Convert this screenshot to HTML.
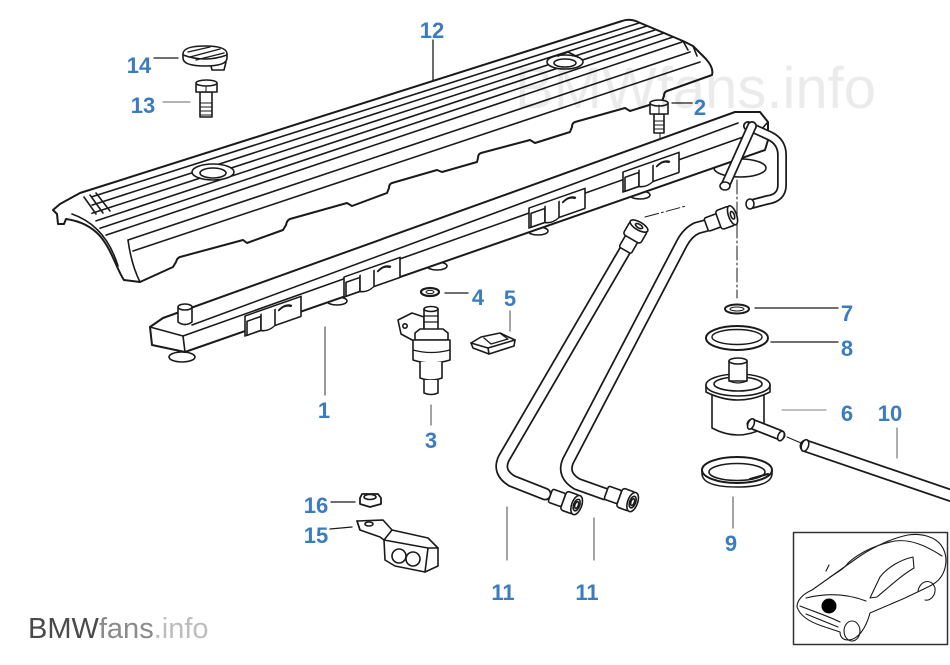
<!DOCTYPE html>
<html>
<head>
<meta charset="utf-8">
<style>
  html,body{margin:0;padding:0;background:#fff;}
  body{width:950px;height:665px;overflow:hidden;}
  svg{display:block;}
  .lb{font-family:"Liberation Sans",Arial,sans-serif;font-weight:bold;font-size:22px;fill:#3b7cc0;text-anchor:middle;}
</style>
</head>
<body>
<svg width="950" height="665" viewBox="0 0 950 665" xmlns="http://www.w3.org/2000/svg">
<g fill="none" stroke="#1a1a1a" stroke-width="1.6" stroke-linejoin="round" stroke-linecap="round">

<!-- ============ COVER (12) ============ -->
<path fill="#fff" d="M53,210 L60,204 L80,193 L622,21 Q630,18 638,22 L683,41 L693,46 L706,59 Q714,68 712,75
 L667,91 Q664,92 664,96 L662,101 L630,111 L625,108
 L575,122 Q572,123 572,127 L570,132 L535,143 L530,140
 L481,153 Q478,154 478,158 L477,162 L442,172 L437,170
 L392,183 Q389,184 389,188 L387,193 L352,206 L347,203
 L290,219 Q287,220 286,225 L283,230 L247,243 L243,240
 L180,257 Q177,258 176,262 L173,267
 L140,282 L124,280 C117,270 112,250 100,236 C92,227 80,221 66,219 L64,224 L58,224 L57,214 Z" stroke-width="2"/>
<!-- top face front edge + parallel -->
<path d="M128,240 L690,52"/>
<path d="M133,251 L700,62"/>
<path d="M128,240 C130,255 134,270 140,282"/>
<path d="M72,214 C95,222 110,240 118,266"/>
<path d="M683,41 L688,50 M693,46 L697,56"/>
<!-- ridges -->
<path d="M92,196.8 L639,23"/>
<path d="M92,205.1 L647,26"/>
<path d="M92,213.3 L655,30"/>
<path d="M96,220.9 L664,33"/>
<path d="M100,228.3 L673,37"/>
<path d="M106,235.1 L682,42"/>
<!-- front fan strokes -->
<path d="M84,197 L96,214"/>
<path d="M90,195 L103,213"/>
<path d="M96,193 L110,211"/>
<!-- bosses -->
<ellipse cx="213" cy="172" rx="21" ry="8" fill="#fff"/>
<ellipse cx="213" cy="173" rx="13" ry="5"/>
<ellipse cx="565" cy="62" rx="18" ry="7" fill="#fff"/>
<ellipse cx="565" cy="63" rx="11" ry="4"/>
<path d="M558,56 L568,52 L578,57"/>

<!-- label leaders -->
<path d="M433,40 L433,80" stroke-width="1.3"/>
<path d="M154,58 L178,58" stroke-width="1.3"/>
<path d="M163,102 L190,102" stroke="#888" stroke-width="1.2"/>
<path d="M672,103 L692,103" stroke-width="1.3"/>
<path d="M445,293 L468,293" stroke-width="1.3"/>
<path d="M510,311 L510,331" stroke="#666" stroke-width="1.2"/>
<path d="M325,327 L325,395" stroke="#555" stroke-width="1.2"/>
<path d="M431,405 L431,425" stroke="#666" stroke-width="1.2"/>
<path d="M755,308 L838,308" stroke-width="1.3"/>
<path d="M771,342 L838,342" stroke-width="1.3"/>
<path d="M782,410 L826,410" stroke="#999" stroke-width="1.2"/>
<path d="M897,428 L897,458" stroke="#777" stroke-width="1.2"/>
<path d="M733,497 L733,528" stroke="#666" stroke-width="1.2"/>
<path d="M507,507 L507,560" stroke="#666" stroke-width="1.2"/>
<path d="M594,518 L594,560" stroke="#666" stroke-width="1.2"/>
<path d="M331,502 L355,502" stroke-width="1.3"/>
<path d="M330,529 L352,527" stroke-width="1.3"/>
<!-- dashed construction lines -->
<path d="M660,133 L660,180" stroke-width="1" stroke-dasharray="5,3"/>
<path d="M737,180 L737,298" stroke-width="1" stroke-dasharray="14,3,2,3"/>
<path d="M645,217 L686,206" stroke-width="1" stroke-dasharray="14,3,2,3"/>
<path d="M787,437 L801,443" stroke-width="1"/>

<!-- ============ FUEL RAIL (1) ============ -->
<!-- feet -->
<ellipse cx="182" cy="357" rx="13" ry="5" fill="#fff"/>
<ellipse cx="337" cy="301" rx="10" ry="4" fill="#fff"/>
<ellipse cx="437" cy="266" rx="10" ry="4" fill="#fff"/>
<ellipse cx="538" cy="231" rx="10" ry="4" fill="#fff"/>
<ellipse cx="640" cy="195" rx="10" ry="4" fill="#fff"/>
<!-- regulator mount disc -->
<ellipse cx="740" cy="168" rx="26" ry="9" fill="#fff"/>
<!-- rail body -->
<path fill="#fff" stroke-width="2" d="M150,327 L163,318 L735,112 L760,112 L768,122 L768,140 L765,150 L185,352 L152,345 Z"/>
<path d="M150,327 L183,336 L760,131 L768,122"/>
<path d="M183,336 L185,352"/>
<path d="M192,325 L738,123"/>
<!-- stub -->
<path fill="#fff" d="M178,308 L178,322 Q185,327 192,322 L192,308"/>
<ellipse cx="185" cy="307" rx="7" ry="3" fill="#fff"/>
<!-- injector cups -->
<g transform="matrix(1,-0.35,0,1,245,316)">
 <rect x="0" y="0" width="56" height="20" fill="#fff"/><rect x="2" y="6" width="14" height="14"/>
 <path d="M16,4 L16,20 Q23,24 30,20 L30,4" fill="#fff"/><path d="M34,6 Q40,2 46,6" stroke-width="2.2"/>
</g>
<g transform="matrix(1,-0.35,0,1,344,277)">
 <rect x="0" y="0" width="56" height="20" fill="#fff"/><rect x="2" y="6" width="14" height="14"/>
 <path d="M16,4 L16,20 Q23,24 30,20 L30,4" fill="#fff"/><path d="M34,6 Q40,2 46,6" stroke-width="2.2"/>
</g>
<g transform="matrix(1,-0.35,0,1,529,208)">
 <rect x="0" y="0" width="56" height="20" fill="#fff"/><rect x="2" y="6" width="14" height="14"/>
 <path d="M16,4 L16,20 Q23,24 30,20 L30,4" fill="#fff"/><path d="M34,6 Q40,2 46,6" stroke-width="2.2"/>
</g>
<g transform="matrix(1,-0.35,0,1,623,172)">
 <rect x="0" y="0" width="56" height="20" fill="#fff"/><rect x="2" y="6" width="14" height="14"/>
 <path d="M16,4 L16,20 Q23,24 30,20 L30,4" fill="#fff"/><path d="M34,6 Q40,2 46,6" stroke-width="2.2"/>
</g>
<!-- return pipes at rail end -->
<path d="M748,126 L770,136 Q782,142 782,155 L782,185 Q782,198 767,200 L752,204" stroke-width="10" stroke="#1a1a1a"/>
<path d="M748,126 L770,136 Q782,142 782,155 L782,185 Q782,198 767,200 L752,204" stroke-width="6.5" stroke="#fff"/>
<ellipse cx="750" cy="204" rx="4" ry="5" fill="#fff"/>
<path d="M752,126 L726,184" stroke-width="10" stroke="#1a1a1a"/>
<path d="M752,126 L726,184" stroke-width="6.5" stroke="#fff"/>
<ellipse cx="725" cy="186" rx="5" ry="4" fill="#fff"/>

<!-- ============ BOLT 2 ============ -->
<rect x="654" y="114" width="10" height="19" fill="#fff"/>
<path d="M654,121 L664,121 M654,125 L664,125 M654,129 L664,129" stroke-width="1"/>
<path d="M650,103 L650,114 L668,114 L668,103" fill="#fff"/>
<ellipse cx="659" cy="103" rx="9" ry="3" fill="#fff"/>
<path d="M659,105 L659,114" stroke-width="1"/>

<!-- ============ CAP 14 & BOLT 13 ============ -->
<path fill="#fff" d="M210,62 L212,70 L224,70 L226,62 Z"/>
<path fill="#fff" d="M183,54 Q183,46 205,46 Q227,46 227,54 L227,58 Q227,66 205,66 Q183,66 183,58 Z"/>
<path d="M183,55 Q205,63 227,55"/>
<path d="M188,52 L210,47 M190,57 L220,49 M196,60 L224,53" stroke-width="1.4"/>
<rect x="200" y="92" width="12" height="25" fill="#fff"/>
<path d="M200,103 L212,103 M200,107 L212,107 M200,111 L212,111 M200,115 L212,115" stroke-width="1"/>
<path d="M196,84 L196,92 L217,92 L217,84" fill="#fff"/>
<ellipse cx="206.5" cy="83" rx="10.5" ry="3" fill="#fff"/>
<path d="M206,86 L206,92" stroke-width="1"/>

<!-- ============ WASHER 4, CLIP 5, INJECTOR 3 ============ -->
<ellipse cx="430" cy="292" rx="9" ry="4" stroke-width="2.2"/>
<ellipse cx="430" cy="292" rx="4" ry="1.6" stroke-width="1"/>
<path fill="#fff" d="M471,343 L481,337 L500,333 L515,340 L514,346 L489,354 L473,348 Z"/>
<path d="M471,343 L488,348 L515,340 M488,348 L489,354"/>
<path d="M484,338 L491,344 L508,339 L501,334" stroke-width="1.3"/>
<path fill="#fff" d="M398,320 L412,313 L424,317 L424,336 L414,341 L401,334 Z"/>
<circle cx="405" cy="326" r="2.2"/>
<path fill="#fff" d="M424,309 L424,331 L438,331 L438,309"/>
<ellipse cx="431" cy="309" rx="7" ry="2.5" fill="#fff"/>
<path d="M424,316 L438,316 M424,322 L438,322" stroke-width="1.2"/>
<path fill="#fff" d="M415,333 L420,329 L443,329 L448,333 L448,340 L415,340 Z"/>
<path fill="#fff" d="M413,340 L413,360 Q431,366 450,360 L450,340 Z"/>
<path d="M413,350 Q431,355 450,350" stroke-width="1.2"/>
<path fill="#fff" d="M420,362 L420,378 Q431,382 442,378 L442,362"/>
<path fill="#fff" d="M424,380 L424,393 Q431,396 438,393 L438,380"/>

<!-- ============ HOSES 11 ============ -->
<path d="M627,247 L504,458 Q497,472 512,481 L545,494" stroke-width="13"/>
<path d="M627,247 L504,458 Q497,472 512,481 L545,494" stroke-width="9.5" stroke="#fff"/>
<path d="M712,224 L697,228 Q688,232 682,243 L568,461 Q562,475 577,484 L605,494" stroke-width="13"/>
<path d="M712,224 L697,228 Q688,232 682,243 L568,461 Q562,475 577,484 L605,494" stroke-width="9.5" stroke="#fff"/>
<!-- top fittings -->
<g transform="translate(635,233) rotate(30)">
 <rect x="-7" y="6" width="14" height="14" rx="2" fill="#fff"/>
 <rect x="-10" y="-8" width="20" height="15" rx="3" fill="#fff"/>
 <ellipse cx="0" cy="-8" rx="10" ry="4" fill="#fff"/><ellipse cx="0" cy="-8" rx="4" ry="1.8"/>
</g>
<g transform="translate(725,218) rotate(70)">
 <rect x="-7" y="6" width="14" height="14" rx="2" fill="#fff"/>
 <rect x="-10" y="-8" width="20" height="15" rx="3" fill="#fff"/>
 <ellipse cx="0" cy="-8" rx="10" ry="4" fill="#fff"/><ellipse cx="0" cy="-8" rx="4" ry="1.8"/>
</g>
<!-- bottom fittings -->
<g transform="translate(571,503) rotate(-70)">
 <rect x="-7" y="-22" width="14" height="14" rx="2" fill="#fff"/>
 <rect x="-10" y="-8" width="20" height="14" rx="3" fill="#fff"/>
 <ellipse cx="0" cy="6" rx="10" ry="5" fill="#fff"/><ellipse cx="0" cy="6" rx="6" ry="3"/><ellipse cx="0" cy="6" rx="3.5" ry="1.7"/>
</g>
<g transform="translate(627,500) rotate(-70)">
 <rect x="-7" y="-22" width="14" height="14" rx="2" fill="#fff"/>
 <rect x="-10" y="-8" width="20" height="14" rx="3" fill="#fff"/>
 <ellipse cx="0" cy="6" rx="10" ry="5" fill="#fff"/><ellipse cx="0" cy="6" rx="6" ry="3"/><ellipse cx="0" cy="6" rx="3.5" ry="1.7"/>
</g>

<!-- ============ RINGS 7, 8 ============ -->
<ellipse cx="737" cy="309" rx="12" ry="4.5" stroke-width="2"/>
<ellipse cx="737" cy="309" rx="7" ry="2" stroke-width="1"/>
<ellipse cx="737" cy="338" rx="31" ry="12" stroke-width="2"/>
<ellipse cx="737" cy="337" rx="25" ry="7.5" stroke-width="1.4"/>

<!-- ============ REGULATOR 6 ============ -->
<path fill="#fff" d="M712,392 L712,428 Q738,442 764,428 L764,392 Z"/>
<path fill="#fff" d="M706,385 L706,392 Q738,408 770,392 L770,385"/>
<ellipse cx="738" cy="385" rx="32" ry="11" fill="#fff"/>
<ellipse cx="738" cy="384" rx="24" ry="7"/>
<rect x="729" y="361" width="18" height="20" fill="#fff"/>
<ellipse cx="738" cy="361" rx="9" ry="3" fill="#fff"/>
<path d="M729,381 Q738,385 747,381" stroke-width="1.2"/>
<path d="M752,424 L780,435" stroke-width="11"/>
<path d="M752,424 L780,435" stroke-width="7.5" stroke="#fff"/>
<ellipse cx="781" cy="436" rx="3" ry="5" fill="#fff" transform="rotate(22 781 436)"/>
<ellipse cx="751" cy="424" rx="3" ry="5.5" fill="#fff" transform="rotate(22 751 424)"/>

<!-- ============ HOSE 10 ============ -->
<path d="M806,446 L958,498" stroke-width="13"/>
<path d="M806,446 L958,498" stroke-width="9.5" stroke="#fff"/>
<ellipse cx="805" cy="445.5" rx="3.5" ry="6" fill="#fff" transform="rotate(19 805 445.5)"/>

<!-- ============ CLAMP 9 ============ -->
<path d="M702,470 L702,474 Q703,487 737,487 Q771,487 772,474 L772,470"/>
<ellipse cx="737" cy="470" rx="35" ry="13" fill="#fff" stroke-width="2"/>
<ellipse cx="737" cy="472" rx="28" ry="8.5"/>
<path d="M750,479 L768,474" stroke-width="2.2"/>

<!-- ============ NUT 16 / BRACKET 15 ============ -->
<path fill="#fff" d="M360,498 L362,494 L378,494 L381,498 L381,504 L370,507 L360,504 Z" stroke-width="1.8"/>
<ellipse cx="370" cy="497" rx="6" ry="2.5"/>
<path fill="#fff" d="M357,521 L383,520 L392,530 L428,538 L438,548 L438,566 L425,572 L395,566 L385,560 L384,540 L380,537 L360,530 Z"/>
<path d="M357,521 L360,530 M392,530 L384,540 M384,540 L428,548 L438,548 M428,548 L425,572"/>
<ellipse cx="369" cy="524" rx="4" ry="2"/>
<circle cx="399" cy="556" r="7"/>
<circle cx="413" cy="559" r="7"/>

<!-- ============ CAR INSET ============ -->
<rect x="793.5" y="532.5" width="154" height="112" fill="#fff" stroke="#333" stroke-width="1.5"/>
<g stroke-width="1.1">
 <path d="M797,607 C797,600 803,594 812,590 L829,578 C840,570 850,563 860,556 C875,546 893,538 908,535 C922,533 935,537 941,545 C946,552 947,560 945,568 C943,576 938,582 930,586 L905,598 L870,613 C866,628 858,640 848,640 C842,640 840,636 840,632 L822,626 C810,622 800,616 797,607 Z"/>
 <path d="M830,577 C838,572 845,568 848,563 C860,552 878,544 895,541 C910,539 925,545 942,556"/>
 <path d="M870,598 L880,577 C888,567 900,560 913,557 L914,568 C902,575 890,586 877,597 Z"/>
 <path d="M806,598 C830,592 850,595 866,601"/>
 <path d="M800,606 C815,612 828,616 840,622 M806,614 L838,627"/>
 <path d="M918,591 C920,580 932,578 935,588 C936,596 930,601 925,600"/>
 <ellipse cx="852" cy="631" rx="8" ry="10"/>
 <path d="M826,571 L829,565"/>
</g>
<circle cx="829" cy="606" r="7.5" fill="#000" stroke="none"/>
</g>

<!-- watermark -->
<text x="515" y="108" font-family="'Liberation Sans',Arial,sans-serif" font-size="58" fill="#000" fill-opacity="0.08">BMWfans.info</text>

<!-- labels -->
<text class="lb" x="432" y="38">12</text>
<text class="lb" x="139" y="73">14</text>
<text class="lb" x="143" y="113">13</text>
<text class="lb" x="700" y="115">2</text>
<text class="lb" x="478" y="305">4</text>
<text class="lb" x="510" y="306">5</text>
<text class="lb" x="847" y="321">7</text>
<text class="lb" x="847" y="356">8</text>
<text class="lb" x="324" y="418">1</text>
<text class="lb" x="847" y="421">6</text>
<text class="lb" x="890" y="421">10</text>
<text class="lb" x="431" y="448">3</text>
<text class="lb" x="316" y="513">16</text>
<text class="lb" x="316" y="543">15</text>
<text class="lb" x="731" y="551">9</text>
<text class="lb" x="503" y="600">11</text>
<text class="lb" x="587" y="600">11</text>

<!-- bottom-left logo -->
<text x="28" y="638" font-family="'Liberation Sans',Arial,sans-serif" font-size="29"><tspan fill="#4a4a4a">BMW</tspan><tspan fill="#8a8a8a">fans</tspan><tspan fill="#bdbdbd">.info</tspan></text>
</svg>
</body>
</html>
